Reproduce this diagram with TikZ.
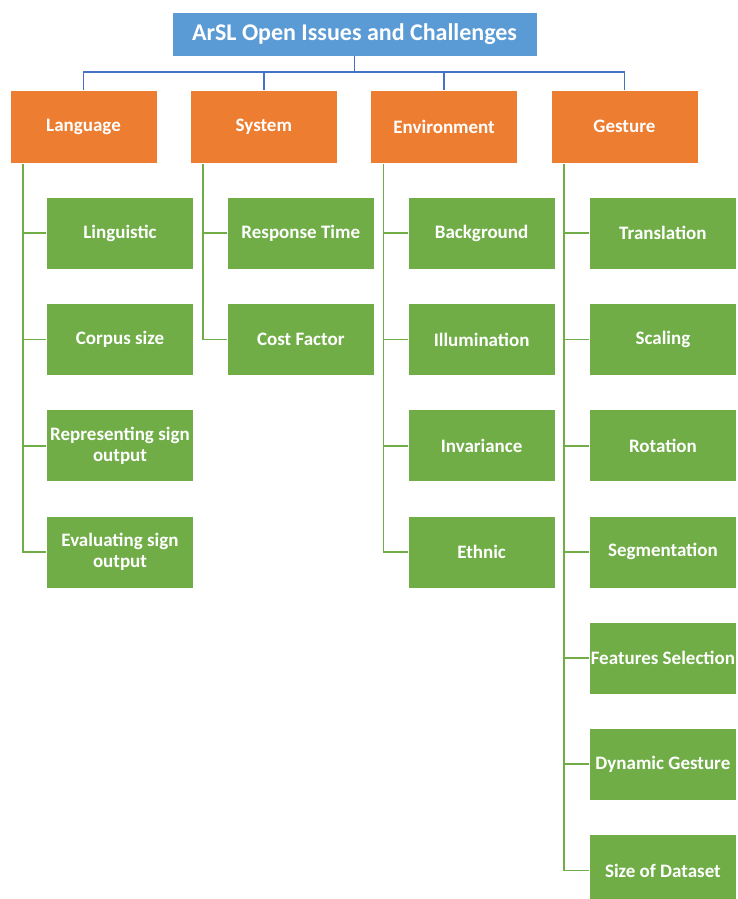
\documentclass[tikz,border=0pt]{standalone}
\usepackage{fontspec}
\setmainfont{Carlito}
\usetikzlibrary{positioning,calc}

\definecolor{topblue}{HTML}{5B9BD5}
\definecolor{linkblue}{HTML}{4472C4}
\definecolor{areaorange}{HTML}{ED7D31}
\definecolor{issuegreen}{HTML}{70AD47}

\begin{document}
\begin{tikzpicture}[x=1pt,y=1pt,node distance=33.8pt,
  every node/.style={text=white,align=center,inner sep=1pt,
    font=\bfseries\fontsize{19}{21.5}\selectfont},
  top/.style={fill=topblue,draw=white,minimum width=365pt,minimum height=44pt,
    font=\bfseries\fontsize{24}{28}\selectfont},
  area/.style={fill=areaorange,draw=white,minimum width=147pt,minimum height=73pt},
  issue/.style={fill=issuegreen,draw=white,minimum width=147pt,minimum height=72pt},
  tree/.style={draw=linkblue,line width=1.8pt},
  branch/.style={draw=issuegreen,line width=1.8pt}]

\clip (0,0) rectangle (737,-899);

\node[top] (title) at (354.5,-34) {ArSL Open Issues and Challenges};

\node[area] (lang) at (83.5,-126.5) {Language};
\node[area] (sys) [right=32.9pt of lang] {System};
\node[area] (env) [right=32.9pt of sys] {Environment};
\node[area] (gest) [right=32.9pt of env] {Gesture};

% language
\node[issue] (ling) [below=of lang, xshift=36.5pt] {Linguistic};
\node[issue] (corp) [below=of ling] {Corpus size};
\node[issue] (repr) [below=of corp] {Representing sign\\output};
\node[issue] (eval) [below=of repr] {Evaluating sign\\output};

% system
\node[issue] (resp) [below=of sys, xshift=37pt] {Response Time};
\node[issue] (cost) [below=of resp] {Cost Factor};

% environment
\node[issue] (back) [below=of env, xshift=37.5pt] {Background};
\node[issue] (illu) [below=of back] {Illumination};
\node[issue] (inva) [below=of illu] {Invariance};
\node[issue] (ethn) [below=of inva] {Ethnic};

% gesture
\node[issue] (tran) [below=of gest, xshift=38.5pt] {Translation};
\node[issue] (scal) [below=of tran] {Scaling};
\node[issue] (rota) [below=of scal] {Rotation};
\node[issue] (segm) [below=of rota] {Segmentation};
\node[issue] (feat) [below=of segm] {Features Selection};
\node[issue] (dyna) [below=of feat] {Dynamic Gesture};
\node[issue] (size) [below=of dyna] {Size of Dataset};

% top level links
\coordinate (hub) at ($(title.south)+(0,-16)$);
\draw[tree] (title.south) -- (hub)
  (hub) -| (lang.north) (hub) -| (sys.north)
  (hub) -| (env.north) (hub) -| (gest.north);

% branches down each column
\coordinate (langroot) at ($(lang.south west)+(13,-1)$);
\coordinate (sysroot) at ($(sys.south west)+(13,-1)$);
\coordinate (envroot) at ($(env.south west)+(13,-1)$);
\coordinate (gestroot) at ($(gest.south west)+(13,-1)$);

\draw[branch] (langroot) |- (ling.west) (langroot) |- (corp.west)
  (langroot) |- (repr.west) (langroot) |- (eval.west);
\draw[branch] (sysroot) |- (resp.west) (sysroot) |- (cost.west);
\draw[branch] (envroot) |- (back.west) (envroot) |- (illu.west)
  (envroot) |- (inva.west) (envroot) |- (ethn.west);
\draw[branch] (gestroot) |- (tran.west) (gestroot) |- (scal.west)
  (gestroot) |- (rota.west) (gestroot) |- (segm.west)
  (gestroot) |- (feat.west) (gestroot) |- (dyna.west)
  (gestroot) |- (size.west);

\end{tikzpicture}
\end{document}
